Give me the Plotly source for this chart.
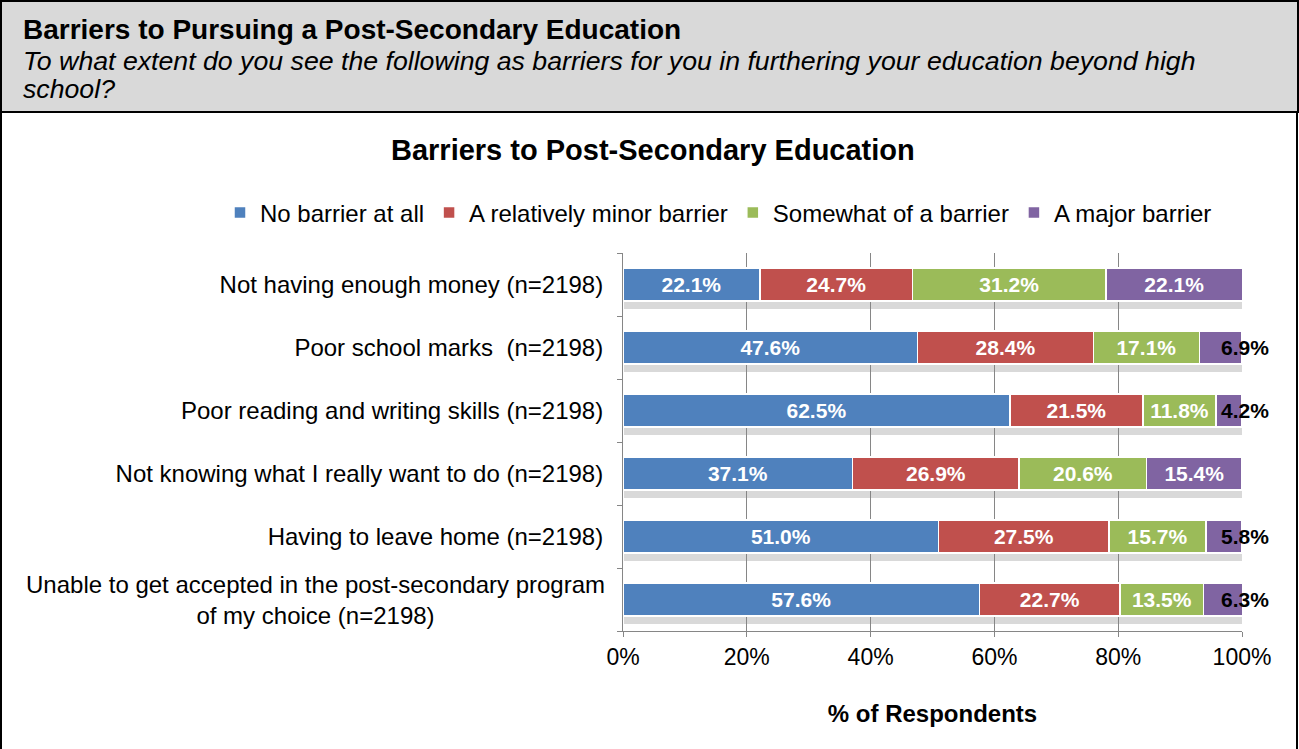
import plotly.graph_objects as go

categories = [
    "Not having enough money (n=2198)",
    "Poor school marks  (n=2198)",
    "Poor reading and writing skills (n=2198)",
    "Not knowing what I really want to do (n=2198)",
    "Having to leave home (n=2198)",
    "Unable to get accepted in the post-secondary program of my choice (n=2198)",
]
series_names = ["No barrier at all", "A relatively minor barrier", "Somewhat of a barrier", "A major barrier"]
no_barrier = [22.1, 47.6, 62.5, 37.1, 51.0, 57.6]
minor_barrier = [24.7, 28.4, 21.5, 26.9, 27.5, 22.7]
somewhat_barrier = [31.2, 17.1, 11.8, 20.6, 15.7, 13.5]
major_barrier = [22.1, 6.9, 4.2, 15.4, 5.8, 6.3]
tick_vals = [0, 20, 40, 60, 80, 100]
tick_text = ["0%", "20%", "40%", "60%", "80%", "100%"]

COLORS = ["#4F81BD", "#C0504D", "#9BBB59", "#8064A2"]
FONT = "Liberation Sans, Arial, sans-serif"

W, H = 1299, 749
L, R, T, B = 623, 57, 253, 118
PW, PH = W - L - R, H - T - B


def px(x):
    return (x - L) / PW


def py(y):
    return (H - B - y) / PH


fig = go.Figure()
for name, vals, color in zip(series_names, [no_barrier, minor_barrier, somewhat_barrier, major_barrier], COLORS):
    small = name == "A major barrier"
    texts = ["" if (small and v < 10) else f"{v:.1f}%" for v in vals]
    fig.add_trace(go.Bar(
        y=categories, x=vals, name=name, orientation="h",
        marker=dict(color=color, line=dict(color="white", width=1.5)),
        text=texts, textposition="inside", insidetextanchor="middle",
        textangle=0, constraintext="none",
        textfont=dict(family=FONT, size=21, color="white", weight="bold"),
        hovertemplate="%{y}<br>%{x:.1f}%<extra>" + name + "</extra>",
    ))

# small "major barrier" values sit in black at the bar end
ends = [a + b + c + d for a, b, c, d in zip(no_barrier, minor_barrier, somewhat_barrier, major_barrier)]
for i, (v, e) in enumerate(zip(major_barrier, ends)):
    if v < 10:
        fig.add_annotation(x=min(e, 100), y=i, xref="x", yref="y", text=f"<b>{v:.1f}%</b>",
                           showarrow=False, xanchor="center", xshift=3,
                           font=dict(family=FONT, size=21, color="black"))

# soft gray shadow below each bar
for i, e in enumerate(ends):
    fig.add_shape(type="rect", xref="x", yref="y", x0=0, x1=min(e, 100), y0=i + 0.27, y1=i + 0.39,
                  fillcolor="#d9d9d9", line=dict(width=0), layer="below")

# the long category label is centred over two lines
tick_labels = categories[:-1] + [""]
fig.add_annotation(xref="paper", yref="y", x=px(315), y=5, xanchor="center", yanchor="middle",
                   align="center", showarrow=False,
                   text="Unable to get accepted in the post-secondary program<br>of my choice (n=2198)",
                   font=dict(family=FONT, size=24, color="black"))

shapes = [
    dict(type="rect", xref="paper", yref="paper", x0=px(1), x1=px(1298), y0=py(1), y1=py(112),
         fillcolor="#D9D9D9", line=dict(color="black", width=2), layer="below"),
    dict(type="line", xref="paper", yref="paper", x0=px(1), x1=px(1), y0=py(112), y1=py(749),
         line=dict(color="black", width=2)),
    dict(type="line", xref="paper", yref="paper", x0=px(1297), x1=px(1297), y0=py(112), y1=py(749),
         line=dict(color="black", width=2)),
]
for s in shapes:
    fig.add_shape(**s)

fig.add_annotation(xref="paper", yref="paper", x=px(21), y=py(30), xanchor="left", yanchor="middle",
                   text="<b>Barriers to Pursuing a Post-Secondary Education</b>", showarrow=False,
                   font=dict(family=FONT, size=28, color="black"))
fig.add_annotation(xref="paper", yref="paper", x=px(21), y=py(61), xanchor="left", yanchor="middle",
                   showarrow=False,
                   text="<i>To what extent do you see the following as barriers for you in furthering your education beyond high</i>",
                   font=dict(family=FONT, size=26.7, color="black"))
fig.add_annotation(xref="paper", yref="paper", x=px(21), y=py(89), xanchor="left", yanchor="middle",
                   showarrow=False, text="<i>school?</i>",
                   font=dict(family=FONT, size=26.7, color="black"))
fig.add_annotation(xref="paper", yref="paper", x=px(653), y=py(150), xanchor="center", yanchor="middle",
                   text="<b>Barriers to Post-Secondary Education</b>", showarrow=False,
                   font=dict(family=FONT, size=29, color="black"))

fig.update_layout(
    width=W, height=H, margin=dict(l=L, r=R, t=T, b=B, autoexpand=False),
    barmode="stack", bargap=0.47,
    paper_bgcolor="white", plot_bgcolor="white",
    font=dict(family=FONT, size=16, color="black"),
    legend=dict(orientation="h", xref="paper", yref="paper",
                x=px(220), xanchor="left", y=py(213), yanchor="middle",
                font=dict(size=24), itemwidth=30, traceorder="normal"),
    showlegend=True,
)
fig.update_yaxes(autorange="reversed", tickson="boundaries", ticks="outside", ticklen=5,
                 tickcolor="#868686", showline=True, linecolor="#868686", linewidth=1,
                 tickmode="array", tickvals=categories, ticktext=tick_labels,
                 tickfont=dict(size=24), ticklabelstandoff=14)
fig.update_xaxes(range=[0, 100], tickvals=tick_vals, ticktext=tick_text, ticks="outside", ticklen=5,
                 tickcolor="#868686", showgrid=True, gridcolor="#868686", gridwidth=1,
                 showline=True, linecolor="#868686", tickfont=dict(size=23),
                 title=dict(text="<b>% of Respondents</b>", standoff=36, font=dict(size=24)))

fig.write_html("out.html", config={"displayModeBar": False},
               post_script="document.body.style.margin='0';")
